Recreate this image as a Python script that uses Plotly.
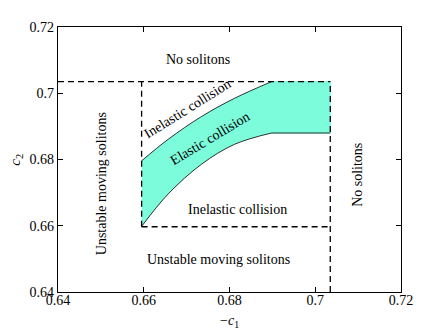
import plotly.graph_objects as go

# region boundaries
c1_left = 0.6595
c1_right = 0.7035
c2_low = 0.6597
c2_top = 0.7035

# elastic collision band
upper_x = [0.6595, 0.6657, 0.6735, 0.6812, 0.6898]
upper_y = [0.6796, 0.6861, 0.6930, 0.6985, 0.7035]
lower_x = [0.6595, 0.6657, 0.6735, 0.6812, 0.6898]
lower_y = [0.6598, 0.6696, 0.6786, 0.6846, 0.6880]

ticks = [0.64, 0.66, 0.68, 0.70, 0.72]
tick_text = ["0.64", "0.66", "0.68", "0.7", "0.72"]

font = "Liberation Serif, Times New Roman, serif"
cyan = "#7dfcdc"

fig = go.Figure()

# flat part of the band (cyan outline hides the seam)
fig.add_trace(go.Scatter(x=[upper_x[-1], c1_right, c1_right, lower_x[-1], upper_x[-1]],
                         y=[upper_y[-1], upper_y[-1], lower_y[-1], lower_y[-1], upper_y[-1]],
                         fill="toself", fillcolor=cyan, mode="lines",
                         line=dict(width=1.2, color=cyan)))
# curved part of the band
fig.add_trace(go.Scatter(x=lower_x, y=lower_y, mode="lines", line_shape="spline",
                         line=dict(color="black", width=0.8)))
fig.add_trace(go.Scatter(x=upper_x, y=upper_y, mode="lines", line_shape="spline",
                         fill="tonexty", fillcolor=cyan,
                         line=dict(color="black", width=0.8)))
fig.add_trace(go.Scatter(x=[lower_x[-1], c1_right], y=[lower_y[-1], lower_y[-1]],
                         mode="lines", line=dict(color="black", width=0.8)))

# dashed boundaries
dash = dict(color="black", width=1.3, dash="6px,4px")
fig.add_trace(go.Scatter(x=[0.64, c1_right], y=[c2_top, c2_top], mode="lines", line=dash))
fig.add_trace(go.Scatter(x=[c1_right, c1_right], y=[0.64, c2_top], mode="lines", line=dash))
fig.add_trace(go.Scatter(x=[c1_left, c1_left], y=[c2_low, c2_top], mode="lines", line=dash))
fig.add_trace(go.Scatter(x=[c1_left, c1_right], y=[c2_low, c2_low], mode="lines", line=dash))

labels = [
    ("No solitons", 0.6726, 0.7101, 0),
    ("Inelastic collision", 0.6703, 0.6953, -32),
    ("Elastic collision", 0.6754, 0.6864, -31),
    ("Inelastic collision", 0.6819, 0.6649, 0),
    ("Unstable moving solitons", 0.6775, 0.6499, 0),
    ("Unstable moving solitons", 0.6500, 0.6728, -90),
    ("No solitons", 0.7100, 0.6754, -90),
]
for txt, x, y, ang in labels:
    fig.add_annotation(x=x, y=y, text=txt, textangle=ang, showarrow=False,
                       font=dict(family=font, size=14, color="black"))

# axis titles
fig.add_annotation(x=0.68, y=-0.07, xref="x", yref="paper", yanchor="top",
                   text="\u2212<i>c</i><sub>1</sub>", showarrow=False,
                   font=dict(family=font, size=14, color="black"))
fig.add_annotation(x=-0.125, y=0.68, xref="paper", yref="y", xanchor="center",
                   text="<i>c</i><sub>2</sub>", showarrow=False, textangle=-90,
                   font=dict(family=font, size=15, color="black"))

axis = dict(range=[0.64, 0.72], tickvals=ticks, ticktext=tick_text,
            ticks="inside", ticklen=5, tickwidth=1, tickcolor="black",
            showline=True, linecolor="black", linewidth=1.3, mirror="ticks",
            showgrid=False, zeroline=False,
            tickfont=dict(family=font, size=14, color="black"))

# page body has an 8px margin, so the figure is a bit smaller and shifted
fig.update_layout(
    width=435, height=325,
    margin=dict(l=50, r=42, t=17, b=41),
    paper_bgcolor="white", plot_bgcolor="white",
    showlegend=False,
    xaxis=dict(axis, ticklabelstandoff=-5),
    yaxis=dict(axis),
)

fig.write_html("out.html")
